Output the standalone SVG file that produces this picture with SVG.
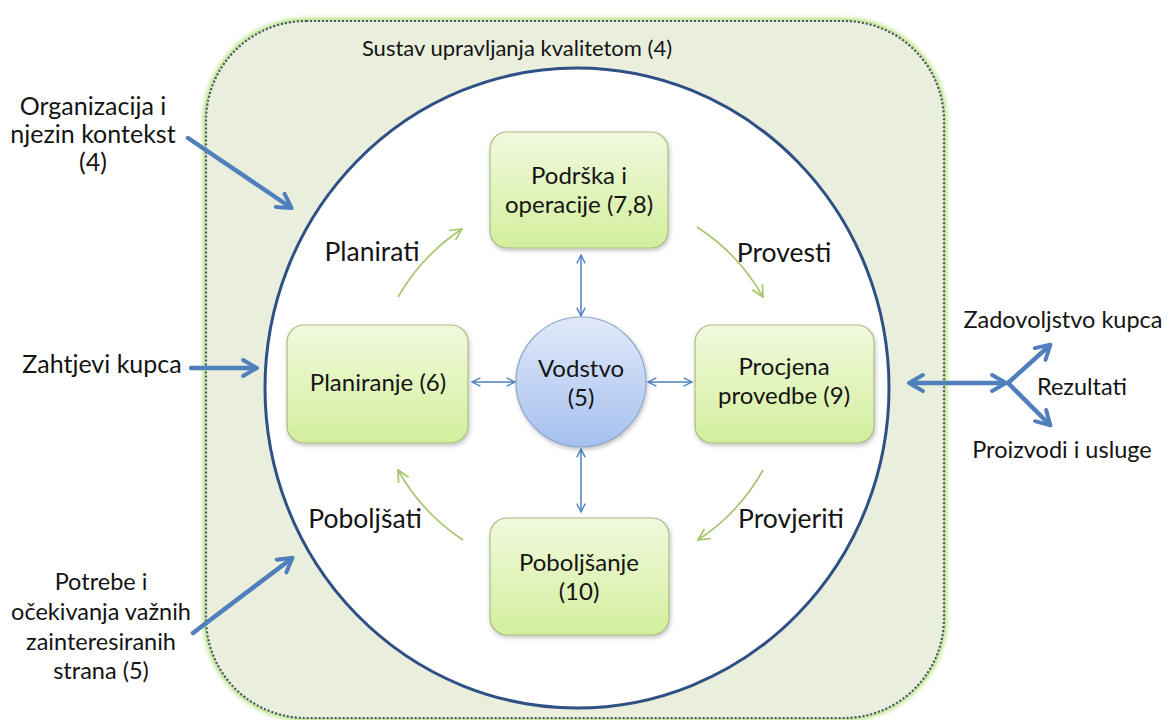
<svg xmlns="http://www.w3.org/2000/svg" width="1166" height="720" viewBox="0 0 1166 720">
<defs>
  <linearGradient id="boxg" x1="0" y1="0" x2="0" y2="1">
    <stop offset="0" stop-color="#f1f9de"/>
    <stop offset="1" stop-color="#d3ef9c"/>
  </linearGradient>
  <linearGradient id="circg" x1="0" y1="0" x2="0" y2="1">
    <stop offset="0" stop-color="#e0e9f9"/>
    <stop offset="1" stop-color="#a6c0ef"/>
  </linearGradient>
  <filter id="shadow" x="-10%" y="-10%" width="130%" height="130%">
    <feDropShadow dx="1" dy="2" stdDeviation="2" flood-color="#000" flood-opacity="0.25"/>
  </filter>
  <filter id="glow" x="-5%" y="-5%" width="110%" height="110%">
    <feGaussianBlur stdDeviation="2"/>
  </filter>
  <marker id="bigHead" viewBox="0 0 10 10" refX="7" refY="5" markerWidth="4.4" markerHeight="4.4" orient="auto-start-reverse" markerUnits="strokeWidth">
    <path d="M1,1 L8,5 L1,9" fill="none" stroke="#4f7fbd" stroke-width="2" stroke-linecap="round" stroke-linejoin="round"/>
  </marker>
  <marker id="thinHead" viewBox="0 0 10 10" refX="9" refY="5" markerWidth="7" markerHeight="7" orient="auto-start-reverse" markerUnits="strokeWidth">
    <path d="M1,1 L9,5 L1,9" fill="none" stroke="#4f81bd" stroke-width="1.3"/>
  </marker>
  <marker id="greenHead" viewBox="0 0 10 10" refX="9" refY="5" markerWidth="9" markerHeight="9" orient="auto" markerUnits="strokeWidth">
    <path d="M1,1 L9,5 L1,9" fill="none" stroke="#a6c46c" stroke-width="1.2"/>
  </marker>
</defs>
<style>
  text { font-family: "Lato", "Liberation Sans", sans-serif; font-size: 24px; fill: #141414; }
  .c { text-anchor: middle; }
  .phase { font-size: 26.5px; }
  .title { font-size: 22px; }
  .side { font-size: 25px; }
  .side2 { font-size: 23.5px; }
  .box { fill: url(#boxg); stroke: #a9bd86; stroke-width: 1.2; filter: url(#shadow); }
  .big { fill: none; stroke: #4f7fbd; stroke-width: 4.5; stroke-linecap: round; }
  .thin { fill: none; stroke: #4f81bd; stroke-width: 1.5; }
  .green { fill: none; stroke: #a6c46c; stroke-width: 1.6; }
</style>

<g id="system">
  <rect x="206" y="21" width="738" height="697" rx="100" ry="100" fill="none" stroke="#b7e07c" stroke-width="6" filter="url(#glow)"/>
  <rect x="206" y="21" width="738" height="697" rx="100" ry="100" fill="#eaefdd" stroke="#44566e" stroke-width="2.2" stroke-dasharray="2 2"/>
  <text class="c title" x="517" y="56">Sustav upravljanja kvalitetom (4)</text>
</g>

<g id="cycle">
  <ellipse cx="577" cy="388" rx="312" ry="320" fill="#ffffff" stroke="#2f5085" stroke-width="3"/>
</g>

<g id="connectors">
  <line class="big" x1="188" y1="138" x2="290" y2="207" marker-end="url(#bigHead)"/>
  <line class="big" x1="191" y1="368" x2="255" y2="368" marker-end="url(#bigHead)"/>
  <line class="big" x1="193" y1="633" x2="291" y2="559" marker-end="url(#bigHead)"/>
  <line class="big" x1="911" y1="383" x2="1004" y2="383" marker-start="url(#bigHead)" marker-end="url(#bigHead)"/>
  <line class="big" x1="1008" y1="383" x2="1049" y2="346" marker-end="url(#bigHead)"/>
  <line class="big" x1="1008" y1="383" x2="1049" y2="424" marker-end="url(#bigHead)"/>

  <line class="thin" x1="581" y1="255" x2="581" y2="316" marker-start="url(#thinHead)" marker-end="url(#thinHead)"/>
  <line class="thin" x1="581" y1="449" x2="581" y2="512" marker-start="url(#thinHead)" marker-end="url(#thinHead)"/>
  <line class="thin" x1="472" y1="382" x2="515" y2="382" marker-start="url(#thinHead)" marker-end="url(#thinHead)"/>
  <line class="thin" x1="648" y1="382" x2="692" y2="382" marker-start="url(#thinHead)" marker-end="url(#thinHead)"/>

  <path class="green" d="M398,297 A200,200 0 0 1 462,229" marker-end="url(#greenHead)"/>
  <path class="green" d="M697,227 A200,200 0 0 1 763,297" marker-end="url(#greenHead)"/>
  <path class="green" d="M763,470 A200,200 0 0 1 698,540" marker-end="url(#greenHead)"/>
  <path class="green" d="M463,540 A200,200 0 0 1 398,470" marker-end="url(#greenHead)"/>
</g>

<g id="podrska">
  <rect class="box" x="490" y="132" width="178" height="116" rx="17"/>
  <text class="c" x="579" y="184">Podrška i</text>
  <text class="c" x="579" y="213">operacije (7,8)</text>
</g>

<g id="planiranje">
  <rect class="box" x="287" y="325" width="181" height="118" rx="17"/>
  <text class="c" x="378" y="391">Planiranje (6)</text>
</g>

<g id="procjena">
  <rect class="box" x="695" y="325" width="179" height="118" rx="17"/>
  <text class="c" x="784" y="375">Procjena</text>
  <text class="c" x="784" y="404">provedbe (9)</text>
</g>

<g id="poboljsanje">
  <rect class="box" x="490" y="518" width="179" height="117" rx="17"/>
  <text class="c" x="579" y="571">Poboljšanje</text>
  <text class="c" x="579" y="600">(10)</text>
</g>

<g id="vodstvo">
  <circle cx="581" cy="382" r="65" fill="url(#circg)" stroke="#8ea6c8" stroke-width="1.2" filter="url(#shadow)"/>
  <text class="c" x="581" y="377">Vodstvo</text>
  <text class="c" x="581" y="406">(5)</text>
</g>

<g id="phase-labels">
  <text class="c phase" x="372" y="261">Planirati</text>
  <text class="c phase" x="784" y="262">Provesti</text>
  <text class="c phase" x="365" y="528">Poboljšati</text>
  <text class="c phase" x="791" y="528">Provjeriti</text>
</g>

<g id="inputs">
  <text class="c side" x="93" y="115">Organizacija i</text>
  <text class="c side" x="93" y="143">njezin kontekst</text>
  <text class="c side" x="93" y="171">(4)</text>
  <text class="c side" x="102" y="373">Zahtjevi kupca</text>
  <text class="c side2" x="101" y="590">Potrebe i</text>
  <text class="c side2" x="101" y="620">očekivanja važnih</text>
  <text class="c side2" x="101" y="650">zainteresiranih</text>
  <text class="c side2" x="101" y="679">strana (5)</text>
</g>

<g id="outputs">
  <text class="c side2" x="1063" y="328">Zadovoljstvo kupca</text>
  <text class="c side2" x="1082" y="395">Rezultati</text>
  <text class="c side2" x="1062" y="458">Proizvodi i usluge</text>
</g>
</svg>
